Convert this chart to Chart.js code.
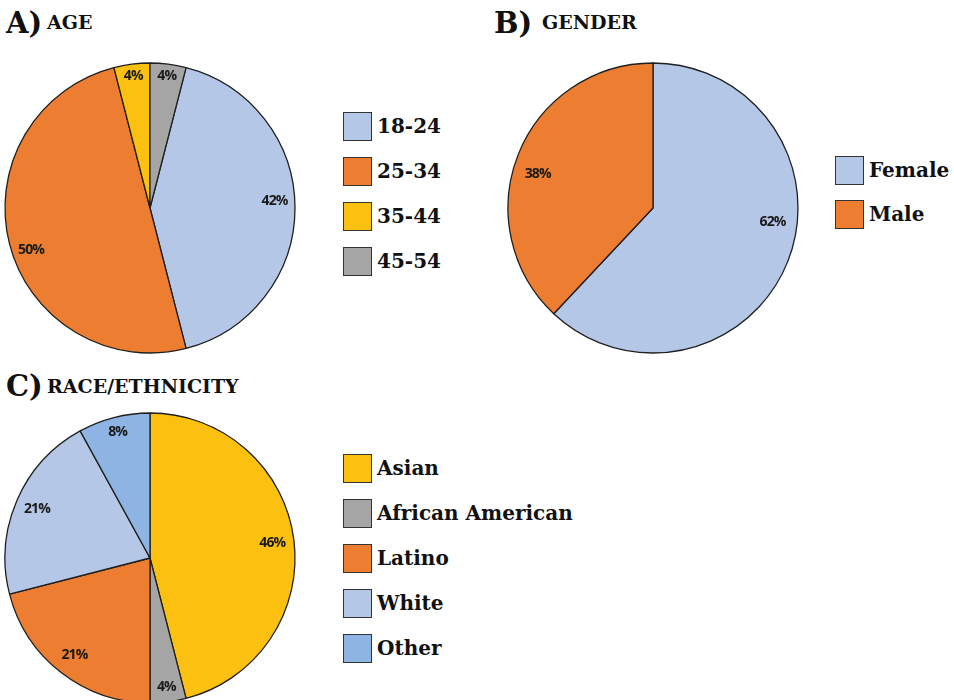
<!DOCTYPE html>
<html>
<head>
<meta charset="utf-8">
<script src="https://cdn.jsdelivr.net/npm/chart.js@4/dist/chart.umd.min.js"></script>
<style>
  html, body { margin: 0; padding: 0; background: #ffffff; }
  body { width: 954px; height: 700px; overflow: hidden; position: relative; font-family: "DejaVu Serif", serif; color: #111; }
  .letter { position: absolute; font-weight: bold; font-size: 29px; line-height: 1; }
  .title { position: absolute; font-weight: bold; font-size: 19px; line-height: 1; }
  canvas { position: absolute; }
  .legend-row { position: absolute; height: 28px; display: flex; align-items: center; white-space: nowrap; font-weight: bold; font-size: 20px; }
  .swatch { width: 29px; height: 29px; box-sizing: border-box; border: 1.5px solid #333; margin-right: 5px; flex: none; }
</style>
</head>
<body>
  <div class="letter" style="left:6px;top:9px;">A)</div>
  <div class="title" style="left:47px;top:13px;">AGE</div>
  <div class="letter" style="left:494px;top:9px;">B)</div>
  <div class="title" style="left:542px;top:13px;">GENDER</div>
  <div class="letter" style="left:6px;top:372px;">C)</div>
  <div class="title" style="left:47px;top:377px;">RACE/ETHNICITY</div>

  <canvas id="agePie" width="300" height="300" style="left:0px;top:58px;"></canvas>
  <canvas id="genderPie" width="300" height="300" style="left:503px;top:58px;"></canvas>
  <canvas id="racePie" width="300" height="300" style="left:0px;top:408px;"></canvas>

<script>
// Survey composition, in percent
const ageLabels = ['18-24', '25-34', '35-44', '45-54'];
const ageValues = [42, 50, 4, 4];

const genderLabels = ['Female', 'Male'];
const genderValues = [62, 38];

const raceLabels = ['Asian', 'African American', 'Latino', 'White', 'Other'];
const raceValues = [46, 4, 21, 21, 8];

const C_LIGHTBLUE = '#b4c7e7';
const C_ORANGE = '#ed7d31';
const C_YELLOW = '#fcc010';
const C_GRAY = '#a5a5a5';
const C_BLUE = '#8db4e2';

const ageColors = [C_LIGHTBLUE, C_ORANGE, C_YELLOW, C_GRAY];
const genderColors = [C_LIGHTBLUE, C_ORANGE];
const raceColors = [C_YELLOW, C_GRAY, C_ORANGE, C_LIGHTBLUE, C_BLUE];

// Percentage labels drawn inside each slice near the rim;
// 'radii' sets the distance from the centre, 'shift' nudges the angle (degrees)
const sliceLabels = {
  id: 'sliceLabels',
  afterDatasetsDraw(chart, args, opts) {
    const ctx = chart.ctx;
    const meta = chart.getDatasetMeta(0);
    const values = chart.data.datasets[0].data;
    ctx.save();
    ctx.font = '700 14px "Open Sans", sans-serif';
    ctx.letterSpacing = '-0.9px';
    ctx.fillStyle = '#1a1a1a';
    ctx.textAlign = 'center';
    ctx.textBaseline = 'middle';
    meta.data.forEach((arc, i) => {
      const p = arc.getProps(['x', 'y', 'startAngle', 'endAngle', 'outerRadius'], true);
      const shift = ((opts.shift && opts.shift[i]) || 0) * Math.PI / 180;
      const mid = (p.startAngle + p.endAngle) / 2 + shift;
      const frac = (opts.radii && opts.radii[i]) || 0.86;
      const r = p.outerRadius * frac;
      ctx.fillText(values[i] + '%', p.x + Math.cos(mid) * r, p.y + Math.sin(mid) * r);
    });
    ctx.restore();
  }
};

function makePie(id, labels, values, colors, rotation, radii, shift) {
  return new Chart(document.getElementById(id), {
    type: 'pie',
    data: {
      labels: labels,
      datasets: [{
        data: values,
        backgroundColor: colors,
        borderColor: '#1f1f1f',
        borderWidth: 1.3,
        borderAlign: 'center'
      }]
    },
    options: {
      responsive: false,
      animation: false,
      devicePixelRatio: 1,
      radius: 145,
      rotation: rotation,
      layout: { padding: 0 },
      plugins: {
        legend: { display: false },
        tooltip: { enabled: false },
        sliceLabels: { radii: radii, shift: shift }
      },
      events: []
    },
    plugins: [sliceLabels]
  });
}

function makeLegend(labels, colors, left, firstCenter, step) {
  labels.forEach((lab, i) => {
    const row = document.createElement('div');
    row.className = 'legend-row';
    row.style.left = left + 'px';
    row.style.top = (firstCenter + i * step - 14) + 'px';
    const sw = document.createElement('div');
    sw.className = 'swatch';
    sw.style.background = colors[i];
    const tx = document.createElement('span');
    tx.textContent = lab;
    row.appendChild(sw);
    row.appendChild(tx);
    document.body.appendChild(row);
  });
}

// Age: the 45-54 share sits just right of twelve o'clock, so start after it
const ageTotal = ageValues.reduce((a, b) => a + b, 0);
const ageRotation = ageValues[3] / ageTotal * 360;

makePie('agePie', ageLabels, ageValues, ageColors, ageRotation, [0.86, 0.87, 0.92, 0.92], [-3, -5, 0, 0]);
makePie('genderPie', genderLabels, genderValues, genderColors, 0, [0.83, 0.83], [-15, -5]);
makePie('racePie', raceLabels, raceValues, raceColors, 0, [0.85, 0.9, 0.85, 0.85, 0.9], [0, 0, 0, 0, 0]);

makeLegend(ageLabels, ageColors, 343, 126, 45);
makeLegend(genderLabels, genderColors, 835, 170, 44);
makeLegend(raceLabels, raceColors, 343, 468, 45);
</script>
</body>
</html>
